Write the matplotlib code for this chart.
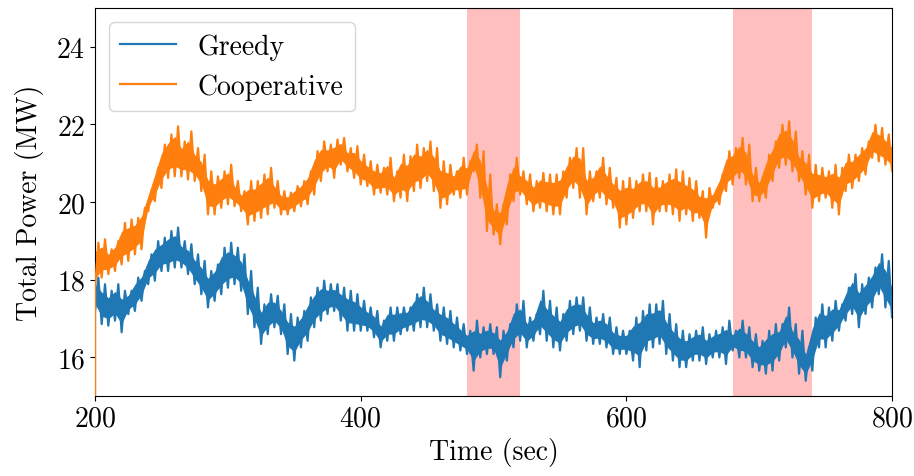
import matplotlib
matplotlib.use('Agg')
import matplotlib.pyplot as plt
import numpy as np

plt.rcParams['font.family'] = ['cmr10', 'DejaVu Serif']
plt.rcParams['mathtext.fontset'] = 'cm'
plt.rcParams['axes.formatter.use_mathtext'] = True
plt.rcParams['font.size'] = 20

# sample times (sec), every 5 s
time = list(range(200, 805, 5))

# upper / lower edges of the noisy power traces (MW)
greedy_hi = [18.05, 17.88, 17.71, 17.88, 17.71, 17.71, 18.05, 18.22, 18.65, 18.99,
             19.08, 19.25, 19.34, 18.99, 18.91, 18.65, 18.48, 18.22, 18.39, 18.82,
             18.95, 18.82, 18.65, 18.22, 17.79, 17.36, 17.62, 17.58, 17.36, 17.11,
             17.02, 17.19, 17.54, 17.79, 17.97, 17.88, 17.88, 17.79, 17.71, 17.62,
             17.45, 17.28, 17.19, 16.94, 17.28, 17.28, 17.28, 17.28, 17.62, 17.79,
             17.62, 17.36, 17.28, 17.19, 17.02, 16.85, 16.68, 16.94, 16.77, 16.85,
             16.77, 16.68, 16.85, 17.36, 17.45, 17.02, 17.11, 17.71, 17.45, 17.28,
             17.11, 17.45, 17.54, 17.54, 17.28, 17.02, 17.11, 17.02, 16.77, 16.68,
             16.68, 17.02, 17.19, 17.36, 17.36, 17.45, 17.11, 16.85, 16.68, 16.59,
             16.68, 16.77, 16.59, 16.68, 16.77, 16.94, 16.68, 16.94, 16.77, 16.59,
             16.42, 16.68, 16.85, 16.85, 17.28, 16.85, 16.68, 16.25, 17.02, 17.36,
             17.28, 17.45, 17.36, 17.79, 18.14, 17.88, 18.05, 18.31, 18.65, 18.48,
             17.97]
greedy_lo = [17.19, 16.85, 16.81, 16.94, 16.64, 17.11, 17.19, 17.45, 17.88, 17.97,
             18.22, 18.22, 18.31, 18.31, 18.14, 17.88, 17.62, 17.28, 17.45, 17.62,
             17.79, 17.88, 17.71, 17.11, 16.77, 16.34, 16.59, 16.77, 16.59, 16.08,
             15.91, 16.25, 16.42, 16.77, 16.94, 17.11, 17.19, 16.94, 16.68, 16.68,
             16.68, 16.68, 16.51, 16.25, 16.42, 16.42, 16.59, 16.68, 16.68, 16.77,
             16.77, 16.68, 16.42, 16.34, 16.25, 16.17, 16.08, 15.65, 15.99, 16.08,
             16.08, 15.48, 15.91, 16.25, 16.42, 16.25, 16.42, 16.59, 16.42, 16.25,
             16.17, 16.42, 16.59, 16.68, 16.42, 16.34, 16.34, 16.25, 16.08, 16.08,
             16.08, 15.91, 15.74, 16.17, 16.25, 16.34, 16.08, 15.91, 15.74, 15.74,
             15.91, 15.91, 15.82, 15.99, 15.99, 15.82, 16.17, 15.99, 15.99, 15.74,
             15.65, 15.57, 15.65, 15.91, 16.25, 15.99, 15.57, 15.39, 15.65, 16.25,
             16.25, 16.42, 16.68, 16.94, 17.11, 16.77, 17.11, 17.28, 17.62, 17.28,
             17.02]

coop_hi = [18.95, 19.04, 18.78, 18.99, 19.46, 19.55, 19.59, 19.85, 20.28, 20.88,
           21.48, 21.74, 21.95, 21.56, 21.82, 21.39, 21.22, 20.79, 20.66, 20.79,
           20.96, 20.54, 20.28, 20.54, 20.54, 20.71, 20.88, 20.54, 20.28, 20.24,
           20.41, 20.54, 20.79, 21.31, 21.56, 21.48, 21.61, 21.65, 21.39, 21.44,
           21.22, 21.05, 20.96, 20.88, 21.14, 20.79, 21.22, 21.18, 21.48, 21.39,
           21.56, 21.39, 21.05, 20.96, 20.79, 21.14, 21.05, 21.48, 21.31, 20.71,
           19.94, 19.94, 20.71, 21.14, 20.79, 20.71, 20.54, 20.75, 20.71, 20.71,
           20.79, 21.14, 21.39, 21.39, 20.79, 20.79, 21.14, 20.88, 20.62, 20.54,
           20.62, 20.54, 20.71, 20.75, 20.62, 20.54, 20.71, 20.84, 20.79, 20.62,
           20.54, 20.28, 20.36, 20.28, 20.71, 21.31, 21.39, 21.65, 21.48, 20.88,
           20.62, 21.22, 21.56, 21.99, 22.08, 21.82, 21.31, 21.22, 20.96, 20.88,
           20.79, 20.96, 20.88, 21.22, 21.22, 21.39, 21.56, 21.99, 21.91, 21.74,
           21.56]
coop_lo = [17.79, 18.05, 18.14, 18.22, 18.39, 18.48, 18.65, 18.78, 19.76, 20.02,
           20.36, 20.62, 20.66, 20.66, 20.58, 20.54, 20.28, 19.68, 19.68, 19.85,
           19.94, 19.89, 19.76, 19.42, 19.51, 19.59, 19.68, 19.85, 19.68, 19.68,
           19.76, 19.89, 19.94, 20.19, 20.54, 20.79, 20.62, 20.96, 20.79, 20.62,
           20.45, 20.41, 20.19, 20.24, 20.19, 20.02, 20.11, 20.02, 20.28, 20.36,
           20.54, 20.28, 19.85, 19.94, 20.19, 20.11, 20.19, 20.79, 20.11, 19.25,
           19.16, 18.91, 19.42, 20.02, 20.19, 19.94, 19.76, 19.85, 19.76, 19.68,
           19.68, 20.11, 20.36, 20.11, 19.68, 20.02, 20.11, 19.94, 19.85, 19.34,
           19.42, 19.59, 19.76, 19.76, 19.42, 19.76, 19.76, 19.68, 19.51, 19.68,
           19.51, 19.59, 19.08, 19.85, 19.94, 20.28, 20.45, 20.62, 20.45, 20.02,
           20.02, 20.11, 20.54, 20.88, 20.96, 20.79, 20.54, 20.19, 19.85, 20.02,
           20.11, 19.85, 19.68, 20.28, 20.36, 20.54, 20.71, 21.14, 21.05, 20.96,
           20.79]

# power reading at t = 200 s, before the controller settles
coop_start = 14.0

# disturbance windows (sec)
events = [(480, 520), (680, 740)]


def trace(t, hi, lo):
    # alternate between the lower and upper edge to draw the jitter
    tt, vv = [], []
    for ti, h, l in zip(t, hi, lo):
        tt += [ti, ti + 2.5]
        vv += [l, h]
    return np.array(tt), np.array(vv)


fig = plt.figure(figsize=(9.14, 4.77), dpi=100)
ax = fig.add_subplot()
fig.subplots_adjust(left=0.104, right=0.976, top=0.981, bottom=0.168)

for a, b in events:
    ax.axvspan(a, b, color='red', alpha=0.25, lw=0)

series = [
    ('Greedy', '#1f77b4', greedy_hi, greedy_lo, None),
    ('Cooperative', '#ff7f0e', coop_hi, coop_lo, coop_start),
]
for name, col, hi, lo, start in series:
    # shrink the band a little so the jitter line gives the ragged edge
    mid = (np.array(hi) + np.array(lo)) / 2
    half = (np.array(hi) - np.array(lo)) / 2
    ax.fill_between(time, mid - 0.6 * half, mid + 0.6 * half, color=col, lw=0)
    tt, vv = trace(time, hi, lo)
    if start is not None:
        tt = np.concatenate([[200], tt])
        vv = np.concatenate([[start], vv])
    ax.plot(tt, vv, color=col, lw=1.6, label=name, zorder=3)

ax.set_xlim(200, 800)
ax.set_ylim(15, 25)
ax.set_xticks([200, 400, 600, 800])
ax.set_yticks([16, 18, 20, 22, 24])
ax.set_xlabel('Time (sec)')
ax.set_ylabel('Total Power (MW)', labelpad=9)
ax.legend(loc='upper left', fontsize=20)

plt.savefig('out.png', dpi=100)
